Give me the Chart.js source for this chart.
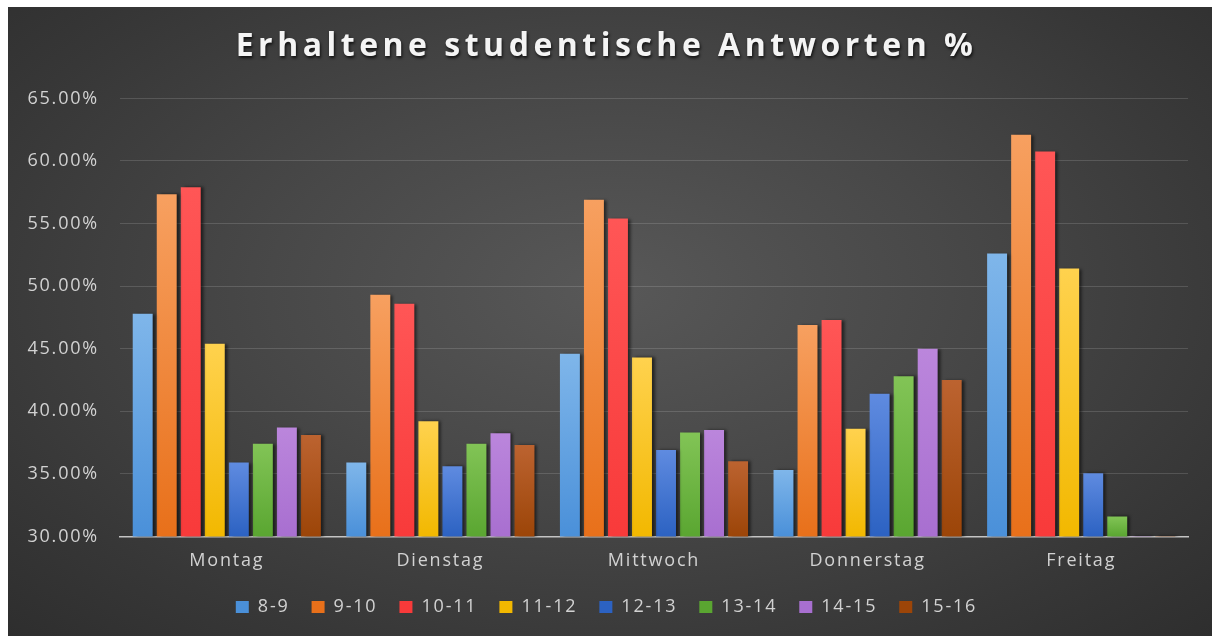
<!DOCTYPE html>
<html>
<head>
<meta charset="utf-8">
<script src="https://cdn.jsdelivr.net/npm/chart.js@4.4.1/dist/chart.umd.min.js"></script>
<style>
  html, body { margin: 0; padding: 0; background: #fff; }
  #rahmen {
    position: absolute; left: 8px; top: 7px; width: 1204px; height: 629px;
    background: radial-gradient(ellipse at 50% 45%, #585858 0%, #484848 40%, #373737 78%, #2e2e2e 100%);
  }
</style>
</head>
<body>
<div id="rahmen"><canvas id="chart" width="1204" height="629"></canvas></div>
<script>
const tage = ["Montag", "Dienstag", "Mittwoch", "Donnerstag", "Freitag"];
const zeiten = ["8-9", "9-10", "10-11", "11-12", "12-13", "13-14", "14-15", "15-16"];

// Anteil Antworten in % je Zeitfenster
const s8_9   = [47.8, 35.9, 44.6, 35.3, 52.6];
const s9_10  = [57.35, 49.3, 56.9, 46.9, 62.1];
const s10_11 = [57.9, 48.6, 55.4, 47.3, 60.75];
const s11_12 = [45.4, 39.2, 44.3, 38.6, 51.4];
const s12_13 = [35.9, 35.6, 36.9, 41.4, 35.05];
const s13_14 = [37.4, 37.4, 38.3, 42.8, 31.6];
const s14_15 = [38.7, 38.25, 38.5, 45.0, 30.0];
const s15_16 = [38.1, 37.3, 36.0, 42.5, 30.0];

const yMin = 30, yMax = 65, yStep = 5;

// [oben, unten]
const farben = [
  ["#7fb6ea", "#4a90d9"],
  ["#f7a060", "#e8701a"],
  ["#ff5656", "#f83a3a"],
  ["#ffd24e", "#f2b800"],
  ["#5f8be0", "#2c62c2"],
  ["#82c456", "#5aa631"],
  ["#bb86dc", "#a86fd0"],
  ["#bc6330", "#9c4508"]
];

const reihen = [s8_9, s9_10, s10_11, s11_12, s12_13, s13_14, s14_15, s15_16];
const textFarbe = "#d2d2d2";
const abstand = "1.8px";

Chart.defaults.font.family = "'Open Sans', sans-serif";
Chart.defaults.font.size = 18;
Chart.defaults.color = textFarbe;

function verlauf(f) {
  return (c) => {
    const area = c.chart.chartArea;
    if (!area || c.type !== "data" || !c.parsed) return f[1];
    const top = c.chart.scales.y.getPixelForValue(c.parsed.y);
    const g = c.chart.ctx.createLinearGradient(0, area.bottom, 0, Math.min(top, area.bottom - 1));
    g.addColorStop(0, f[1]);
    g.addColorStop(1, f[0]);
    return g;
  };
}

// etwas breitere Schrift wie im Original, Titel mit Schatten
const schrift = {
  id: "schrift",
  beforeUpdate(chart) { chart.ctx.letterSpacing = abstand; },
  beforeDraw(chart) {
    chart.ctx.letterSpacing = abstand;
    const t = chart.titleBlock;
    if (t && !t._gewickelt) {
      const orig = t.draw.bind(t);
      t.draw = function () {
        const ctx = this.ctx;
        ctx.save();
        ctx.letterSpacing = "4.5px";
        ctx.shadowColor = "rgba(0,0,0,0.75)";
        ctx.shadowOffsetX = 1;
        ctx.shadowOffsetY = 2;
        ctx.shadowBlur = 3;
        orig();
        ctx.restore();
      };
      t._gewickelt = true;
    }
  },
  beforeDatasetsDraw(chart) {
    const ctx = chart.ctx;
    ctx.save();
    ctx.shadowColor = "rgba(0,0,0,0.55)";
    ctx.shadowOffsetX = 3;
    ctx.shadowBlur = 3;
  },
  afterDatasetsDraw(chart) { chart.ctx.restore(); }
};

new Chart(document.getElementById("chart"), {
  type: "bar",
  data: {
    labels: tage,
    datasets: zeiten.map((z, i) => ({
      label: z,
      data: reihen[i],
      backgroundColor: verlauf(farben[i]),
      borderWidth: 0,
      categoryPercentage: 0.9,
      barPercentage: 0.83
    }))
  },
  options: {
    responsive: false,
    animation: false,
    layout: { padding: { left: 17, right: 24, top: 0, bottom: 10 } },
    plugins: {
      title: {
        display: true,
        text: "Erhaltene studentische Antworten %",
        color: "#f4f4f4",
        font: { size: 32, weight: "bold" },
        padding: { top: 21, bottom: 32 }
      },
      legend: {
        position: "bottom",
        labels: { boxWidth: 13, boxHeight: 12, padding: 22, color: textFarbe }
      },
      tooltip: { enabled: false }
    },
    scales: {
      x: {
        grid: { display: false, drawTicks: false },
        border: { color: "#c4c4c4", width: 1.5 },
        ticks: { padding: 14 },
        afterFit(s) { s.height -= 10; }
      },
      y: {
        min: yMin,
        max: yMax,
        ticks: { stepSize: yStep, padding: 21, callback: (v) => v.toFixed(2) + "%" },
        grid: { color: "rgba(255,255,255,0.14)", drawTicks: false },
        border: { display: false },
        afterFit(s) { s.width = 95; }
      }
    }
  },
  plugins: [schrift]
});
</script>
</body>
</html>
